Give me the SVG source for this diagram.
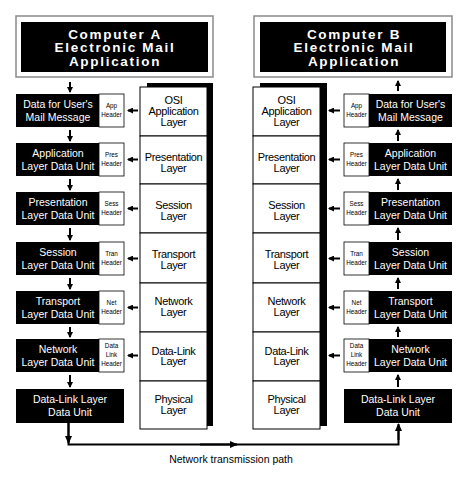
<svg xmlns="http://www.w3.org/2000/svg" width="471" height="479" viewBox="0 0 471 479">
<style>
.bg{fill:#fff}
.tbox{fill:#fff;stroke:#8a8a8a;stroke-width:1.5}
.blk{fill:#000}
.hdr{fill:#fff;stroke:#000;stroke-width:0.8}
.cell{fill:#fff;stroke:#000;stroke-width:1}
.title{font-family:"Liberation Sans",Arial,sans-serif;font-weight:bold;font-size:13.5px;letter-spacing:1.7px;fill:#fff;text-anchor:middle}
.rt{font-family:"Liberation Sans",Arial,sans-serif;font-size:10.5px;fill:#fff;text-anchor:middle}
.ct{font-family:"Liberation Sans",Arial,sans-serif;font-size:11px;letter-spacing:-0.35px;fill:#000;text-anchor:middle}
.ht{font-family:"Liberation Sans",Arial,sans-serif;font-size:6.3px;fill:#000;text-anchor:middle}
.lt{font-family:"Liberation Sans",Arial,sans-serif;font-size:10.5px;fill:#000;text-anchor:middle}
.a{stroke:#000;stroke-width:2;fill:none;marker-end:url(#ah)}
.p{stroke:#000;stroke-width:2;fill:none}
</style>
<defs>
<marker id="ah" viewBox="0 0 6 6" refX="5" refY="3" markerWidth="6" markerHeight="6" markerUnits="userSpaceOnUse" orient="auto"><path d="M0,0 L6,3 L0,6 z" fill="#000"/></marker>
<marker id="bh" viewBox="0 0 8 7" refX="7" refY="3.5" markerWidth="8" markerHeight="7" markerUnits="userSpaceOnUse" orient="auto"><path d="M0,0 L8,3.5 L0,7 z" fill="#000"/></marker>
</defs>
<rect class="bg" x="0" y="0" width="471" height="479"/>

<!-- Titles -->
<g id="titleA">
<rect class="tbox" x="16" y="16" width="197" height="61"/>
<rect class="blk" x="21" y="22" width="187" height="50"/>
<text class="title" x="115" y="38.5">Computer A</text>
<text class="title" x="115" y="52">Electronic Mail</text>
<text class="title" x="115" y="65.5">Application</text>
</g>
<g id="titleB">
<rect class="tbox" x="254" y="16" width="198" height="61"/>
<rect class="blk" x="260" y="22" width="186" height="50"/>
<text class="title" x="354" y="38.5">Computer B</text>
<text class="title" x="354" y="52">Electronic Mail</text>
<text class="title" x="354" y="65.5">Application</text>
</g>

<!-- OSI stack A -->
<g id="stackA">
<rect class="blk" x="147" y="83" width="66" height="343"/>
<rect class="cell" x="140" y="87" width="67" height="49"/>
<rect class="cell" x="140" y="136" width="67" height="48"/>
<rect class="cell" x="140" y="184" width="67" height="49"/>
<rect class="cell" x="140" y="233" width="67" height="50"/>
<rect class="cell" x="140" y="283" width="67" height="49"/>
<rect class="cell" x="140" y="332" width="67" height="49"/>
<rect class="cell" x="140" y="381" width="67" height="48"/>
<text class="ct" x="173.5" y="104">OSI</text>
<text class="ct" x="173.5" y="115">Application</text>
<text class="ct" x="173.5" y="126">Layer</text>
<text class="ct" x="173.5" y="161">Presentation</text>
<text class="ct" x="173.5" y="172">Layer</text>
<text class="ct" x="173.5" y="208.5">Session</text>
<text class="ct" x="173.5" y="219.5">Layer</text>
<text class="ct" x="173.5" y="258">Transport</text>
<text class="ct" x="173.5" y="269">Layer</text>
<text class="ct" x="173.5" y="305">Network</text>
<text class="ct" x="173.5" y="316">Layer</text>
<text class="ct" x="173.5" y="354.5">Data-Link</text>
<text class="ct" x="173.5" y="365">Layer</text>
<text class="ct" x="173.5" y="403">Physical</text>
<text class="ct" x="173.5" y="413.5">Layer</text>
</g>

<!-- OSI stack B -->
<g id="stackB">
<rect class="blk" x="260" y="83" width="67" height="343"/>
<rect class="cell" x="253" y="87" width="67" height="49"/>
<rect class="cell" x="253" y="136" width="67" height="48"/>
<rect class="cell" x="253" y="184" width="67" height="49"/>
<rect class="cell" x="253" y="233" width="67" height="50"/>
<rect class="cell" x="253" y="283" width="67" height="49"/>
<rect class="cell" x="253" y="332" width="67" height="49"/>
<rect class="cell" x="253" y="381" width="67" height="48"/>
<text class="ct" x="286.5" y="104">OSI</text>
<text class="ct" x="286.5" y="115">Application</text>
<text class="ct" x="286.5" y="126">Layer</text>
<text class="ct" x="286.5" y="161">Presentation</text>
<text class="ct" x="286.5" y="172">Layer</text>
<text class="ct" x="286.5" y="208.5">Session</text>
<text class="ct" x="286.5" y="219.5">Layer</text>
<text class="ct" x="286.5" y="258">Transport</text>
<text class="ct" x="286.5" y="269">Layer</text>
<text class="ct" x="286.5" y="305">Network</text>
<text class="ct" x="286.5" y="316">Layer</text>
<text class="ct" x="286.5" y="354.5">Data-Link</text>
<text class="ct" x="286.5" y="365">Layer</text>
<text class="ct" x="286.5" y="403">Physical</text>
<text class="ct" x="286.5" y="413.5">Layer</text>
</g>

<!-- Left rows -->
<g id="a1"><rect class="blk" x="16" y="94" width="83" height="33"/><rect class="hdr" x="99" y="94" width="25" height="33"/>
<text class="rt" x="58" y="108">Data for User's</text><text class="rt" x="58" y="120.5">Mail Message</text>
<text class="ht" x="111.5" y="108">App</text><text class="ht" x="111.5" y="116.5">Header</text></g>
<g id="a2"><rect class="blk" x="16" y="143" width="83" height="33"/><rect class="hdr" x="99" y="143" width="25" height="33"/>
<text class="rt" x="58" y="157">Application</text><text class="rt" x="58" y="169.5">Layer Data Unit</text>
<text class="ht" x="111.5" y="157">Pres</text><text class="ht" x="111.5" y="165.5">Header</text></g>
<g id="a3"><rect class="blk" x="16" y="192" width="83" height="33"/><rect class="hdr" x="99" y="192" width="25" height="33"/>
<text class="rt" x="58" y="206">Presentation</text><text class="rt" x="58" y="218.5">Layer Data Unit</text>
<text class="ht" x="111.5" y="206">Sess</text><text class="ht" x="111.5" y="214.5">Header</text></g>
<g id="a4"><rect class="blk" x="16" y="242" width="83" height="33"/><rect class="hdr" x="99" y="242" width="25" height="33"/>
<text class="rt" x="58" y="256">Session</text><text class="rt" x="58" y="268.5">Layer Data Unit</text>
<text class="ht" x="111.5" y="256">Tran</text><text class="ht" x="111.5" y="264.5">Header</text></g>
<g id="a5"><rect class="blk" x="16" y="291" width="83" height="33"/><rect class="hdr" x="99" y="291" width="25" height="33"/>
<text class="rt" x="58" y="305">Transport</text><text class="rt" x="58" y="317.5">Layer Data Unit</text>
<text class="ht" x="111.5" y="305">Net</text><text class="ht" x="111.5" y="313.5">Header</text></g>
<g id="a6"><rect class="blk" x="16" y="339" width="83" height="33"/><rect class="hdr" x="99" y="339" width="25" height="33"/>
<text class="rt" x="58" y="353">Network</text><text class="rt" x="58" y="365.5">Layer Data Unit</text>
<text class="ht" x="111.5" y="348">Data</text><text class="ht" x="111.5" y="357">Link</text><text class="ht" x="111.5" y="366">Header</text></g>
<g id="a7"><rect class="blk" x="16" y="389" width="108" height="34"/>
<text class="rt" x="70" y="403">Data-Link Layer</text><text class="rt" x="70" y="416">Data Unit</text></g>

<!-- Right rows -->
<g id="b1"><rect class="blk" x="369" y="94" width="83" height="33"/><rect class="hdr" x="344" y="94" width="25" height="33"/>
<text class="rt" x="410.5" y="108">Data for User's</text><text class="rt" x="410.5" y="120.5">Mail Message</text>
<text class="ht" x="356.5" y="108">App</text><text class="ht" x="356.5" y="116.5">Header</text></g>
<g id="b2"><rect class="blk" x="369" y="143" width="83" height="33"/><rect class="hdr" x="344" y="143" width="25" height="33"/>
<text class="rt" x="410.5" y="157">Application</text><text class="rt" x="410.5" y="169.5">Layer Data Unit</text>
<text class="ht" x="356.5" y="157">Pres</text><text class="ht" x="356.5" y="165.5">Header</text></g>
<g id="b3"><rect class="blk" x="369" y="192" width="83" height="33"/><rect class="hdr" x="344" y="192" width="25" height="33"/>
<text class="rt" x="410.5" y="206">Presentation</text><text class="rt" x="410.5" y="218.5">Layer Data Unit</text>
<text class="ht" x="356.5" y="206">Sess</text><text class="ht" x="356.5" y="214.5">Header</text></g>
<g id="b4"><rect class="blk" x="369" y="242" width="83" height="33"/><rect class="hdr" x="344" y="242" width="25" height="33"/>
<text class="rt" x="410.5" y="256">Session</text><text class="rt" x="410.5" y="268.5">Layer Data Unit</text>
<text class="ht" x="356.5" y="256">Tran</text><text class="ht" x="356.5" y="264.5">Header</text></g>
<g id="b5"><rect class="blk" x="369" y="291" width="83" height="33"/><rect class="hdr" x="344" y="291" width="25" height="33"/>
<text class="rt" x="410.5" y="305">Transport</text><text class="rt" x="410.5" y="317.5">Layer Data Unit</text>
<text class="ht" x="356.5" y="305">Net</text><text class="ht" x="356.5" y="313.5">Header</text></g>
<g id="b6"><rect class="blk" x="369" y="339" width="83" height="33"/><rect class="hdr" x="344" y="339" width="25" height="33"/>
<text class="rt" x="410.5" y="353">Network</text><text class="rt" x="410.5" y="365.5">Layer Data Unit</text>
<text class="ht" x="356.5" y="348">Data</text><text class="ht" x="356.5" y="357">Link</text><text class="ht" x="356.5" y="366">Header</text></g>
<g id="b7"><rect class="blk" x="344" y="389" width="108" height="34"/>
<text class="rt" x="398" y="403">Data-Link Layer</text><text class="rt" x="398" y="416">Data Unit</text></g>

<!-- Connectors -->
<g id="connectors">
<line class="a" x1="70" y1="82" x2="70" y2="92"/>
<line class="a" x1="70" y1="130" x2="70" y2="141"/>
<line class="a" x1="70" y1="179" x2="70" y2="190"/>
<line class="a" x1="70" y1="228" x2="70" y2="240"/>
<line class="a" x1="70" y1="278" x2="70" y2="289"/>
<line class="a" x1="70" y1="327" x2="70" y2="337"/>
<line class="a" x1="70" y1="375" x2="70" y2="387"/>

<line class="a" x1="398" y1="91" x2="398" y2="81"/>
<line class="a" x1="398" y1="141" x2="398" y2="130"/>
<line class="a" x1="398" y1="190" x2="398" y2="179"/>
<line class="a" x1="398" y1="240" x2="398" y2="228"/>
<line class="a" x1="398" y1="289" x2="398" y2="278"/>
<line class="a" x1="398" y1="337" x2="398" y2="327"/>
<line class="a" x1="398" y1="387" x2="398" y2="375"/>

<line class="a" x1="138" y1="110.5" x2="128" y2="110.5"/>
<line class="a" x1="138" y1="159.5" x2="128" y2="159.5"/>
<line class="a" x1="138" y1="208.5" x2="128" y2="208.5"/>
<line class="a" x1="138" y1="258.5" x2="128" y2="258.5"/>
<line class="a" x1="138" y1="307.5" x2="128" y2="307.5"/>
<line class="a" x1="138" y1="355.5" x2="128" y2="355.5"/>

<line class="a" x1="340" y1="110.5" x2="329" y2="110.5"/>
<line class="a" x1="340" y1="159.5" x2="329" y2="159.5"/>
<line class="a" x1="340" y1="208.5" x2="329" y2="208.5"/>
<line class="a" x1="340" y1="258.5" x2="329" y2="258.5"/>
<line class="a" x1="340" y1="307.5" x2="329" y2="307.5"/>
<line class="a" x1="340" y1="355.5" x2="329" y2="355.5"/>

<path class="p" d="M68.5,423 V444.5 H398.5 V426"/>
<line class="p" x1="68.5" y1="423" x2="68.5" y2="443" marker-end="url(#bh)"/>
<line class="p" x1="200" y1="444.5" x2="237" y2="444.5" marker-end="url(#bh)"/>
<line class="p" x1="398.5" y1="440" x2="398.5" y2="424" marker-end="url(#bh)"/>
</g>
<text class="lt" x="231" y="463">Network transmission path</text>
</svg>
